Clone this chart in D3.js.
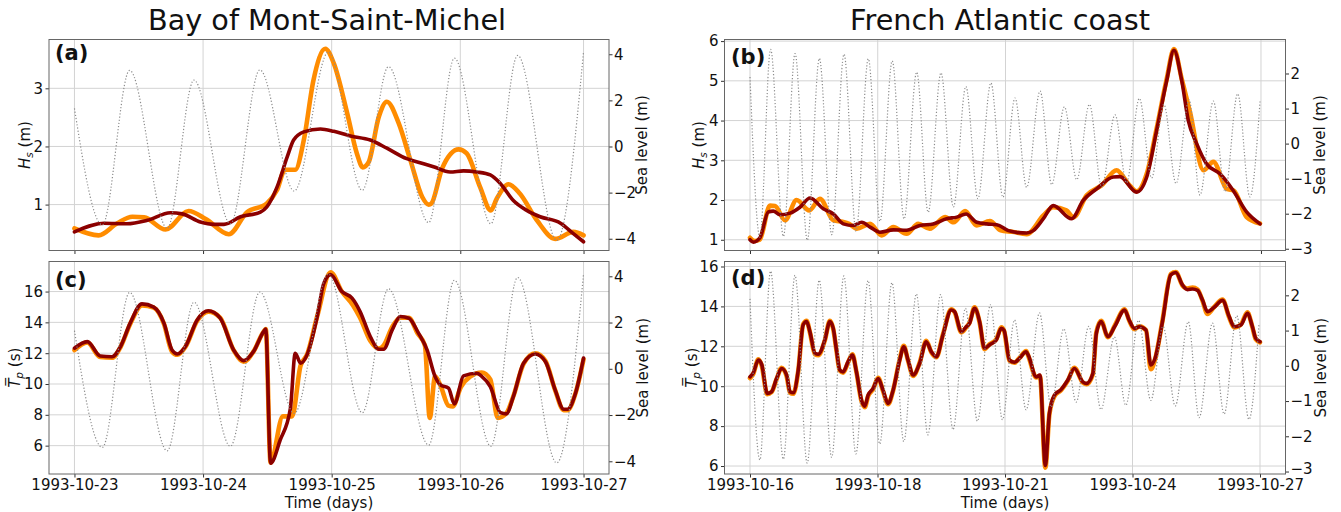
<!DOCTYPE html>
<html><head><meta charset="utf-8">
<script src="https://cdn.jsdelivr.net/npm/d3@7"></script>
<style>
body{margin:0;background:#fff}
text{font-family:"DejaVu Sans",sans-serif;fill:#111}
</style>
</head><body>
<svg id="chart" width="1341" height="512"></svg>
<script>
// ---------- DATA (hours since start, value) ----------
const bayStart = "1993-10-23T00:00:00Z";
const atlStart = "1993-10-16T00:00:00Z";

const bayTickHours = [0, 24, 48, 72, 95];
const bayTickLabels = ["1993-10-23","1993-10-24","1993-10-25","1993-10-26","1993-10-27"];
const atlTickHours = [0, 65.75, 131.5, 197.25, 263];
const atlTickLabels = ["1993-10-16","1993-10-18","1993-10-21","1993-10-24","1993-10-27"];

const bayHsTicks = [1, 2, 3];
const bayTpTicks = [6, 8, 10, 12, 14, 16];
const baySeaTicks = [-4, -2, 0, 2, 4];
const atlHsTicks = [1, 2, 3, 4, 5, 6];
const atlTpTicks = [6, 8, 10, 12, 14, 16];
const atlSeaTicks = [-3, -2, -1, 0, 1, 2];

// Bay of Mont-Saint-Michel
const bayHsOrange = [[0,0.59],[4.5,0.47],[8,0.68],[10.8,0.79],[13,0.78],[17,0.57],[21.3,0.89],[24.5,0.75],[28.8,0.49],[32.2,0.87],[35.9,1.02],[37.8,1.25],[39.3,1.6],[41.2,1.6],[42.8,2.11],[44.6,3.14],[46.8,3.68],[48.4,3.43],[50.9,2.57],[52.7,1.88],[53.8,1.64],[54.9,1.73],[56.8,2.51],[58.3,2.77],[60.5,2.4],[62.7,1.76],[64.9,1.13],[66.1,1.0],[66.6,1.02],[68.6,1.62],[71.7,1.95],[73.2,1.88],[75.7,1.3],[77.7,0.9],[78.8,1.1],[81,1.35],[83.1,1.19],[86.3,0.73],[89.7,0.41],[93.1,0.53],[95,0.47]];
const bayHsRed = [[0,0.53],[5.5,0.68],[9.8,0.67],[13.6,0.73],[17.9,0.86],[20.1,0.84],[23.5,0.7],[26,0.66],[27.9,0.66],[31,0.79],[34.7,0.87],[35.9,0.96],[37.8,1.3],[39.7,1.82],[40.9,2.11],[42.8,2.25],[45.9,2.3],[48.4,2.26],[51.5,2.18],[55.2,2.11],[58.3,1.97],[62,1.79],[64.5,1.72],[67,1.65],[70.1,1.56],[72.6,1.58],[75.1,1.56],[77.6,1.51],[79.5,1.36],[81.9,1.07],[84.4,0.9],[86.9,0.79],[90.7,0.68],[93.1,0.5],[95,0.36]];
const bayTpOrange = [[0,12.2],[2.4,12.7],[4.8,11.75],[7,11.7],[8.6,12.4],[10.4,13.9],[12.6,15.1],[14.8,14.95],[16.7,13.9],[18.2,12.1],[19.2,11.9],[20.7,12.4],[22.9,14.1],[25,14.7],[27.2,14.3],[29.7,12.2],[31.6,11.45],[33.4,12.1],[35.3,13.4],[35.7,13.56],[36.6,4.9],[38.9,7.9],[40.6,7.9],[42.2,11.2],[43.4,11.9],[45.3,14.4],[47.8,17.25],[49.9,16.0],[52,15.1],[53.3,14.3],[55.2,12.8],[56.8,12.3],[57.7,12.5],[59.3,13.7],[60.8,14.3],[62.4,14.3],[64,13.3],[65.4,12.5],[66.3,7.8],[67.3,10.5],[68.3,9.9],[69.8,8.6],[70.6,8.55],[72.1,9.8],[73.9,10.5],[76,10.75],[77.6,10.3],[79,7.8],[80.6,8.1],[81.9,9.2],[83.8,11.3],[86,12.0],[87.9,11.5],[89.7,9.6],[91.3,8.3],[92,8.3],[93.5,9.4],[95,11.6]];
const bayTpRed = [[0,12.32],[2.4,12.75],[4.8,11.82],[7,11.77],[8.6,12.43],[10.4,13.95],[12.6,15.2],[14.8,14.99],[16.7,13.95],[18.2,12.21],[19.2,11.95],[20.7,12.43],[22.9,14.16],[25,14.75],[27.2,14.27],[29.7,12.21],[31.6,11.52],[33.4,12.1],[35.3,13.4],[35.7,13.56],[36.6,4.86],[38.4,6.37],[40.3,8.43],[41.2,12.0],[42.2,11.35],[43.4,11.89],[45.3,14.38],[46.5,16.5],[47.8,17.1],[49.9,16.0],[51.8,15.57],[53.3,14.7],[55.2,13.08],[56.8,12.26],[57.7,12.26],[59.3,13.51],[60.8,14.38],[62.4,14.27],[64.2,13.3],[65.8,12.21],[67.3,10.48],[68.3,9.94],[69.8,9.73],[70.9,8.71],[72.6,10.53],[75.1,10.7],[75.9,10.53],[77.6,9.83],[79.5,8.14],[80.6,8.06],[81.9,9.18],[83.8,11.35],[86,11.95],[87.9,11.45],[89.7,9.62],[91.3,8.36],[92,8.36],[93.5,9.4],[95,11.68]];
const baySea = [[0,1.65],[5.2,-3.4],[10.3,3.3],[17.3,-3.55],[22.3,2.88],[29.1,-3.35],[34.6,3.32],[41,-1.93],[47.4,4.1],[53.7,-1.9],[58.6,3.46],[66.1,-3.3],[70.9,3.83],[77.7,-3.35],[82.7,3.95],[90,-4.07],[95,4.11]];

// French Atlantic coast
const atlHsOrange = [[0,1.05],[2.5,0.97],[5,1.0],[10.3,1.86],[12.9,1.85],[18,1.49],[24,2.0],[30.5,1.74],[36,2.03],[42.9,1.49],[48,1.45],[51,1.4],[54.9,1.28],[61.8,1.4],[67.8,1.11],[73.8,1.32],[80.6,1.15],[86.6,1.4],[92.5,1.28],[100.4,1.57],[104.8,1.44],[110.7,1.72],[116.7,1.36],[123.5,1.47],[129,1.24],[135,1.2],[142.4,1.14],[151,1.61],[156,1.82],[162.8,1.74],[166.5,1.57],[173.3,2.12],[181,2.37],[188.7,2.75],[194.7,2.41],[199,2.22],[204.2,2.66],[209.3,3.8],[214.5,5.05],[218.2,5.8],[222.2,5.05],[226.5,4.21],[233.4,2.75],[238.5,2.96],[245.4,2.28],[249,2.24],[255.6,1.57],[262.5,1.41]];
const atlHsRed = [[0,1.0],[1.7,0.94],[5.1,1.05],[9.4,1.7],[12,1.72],[15.4,1.63],[20.6,1.67],[25.7,1.82],[30.9,2.05],[37.7,1.78],[42.9,1.65],[48,1.4],[53.2,1.36],[57.5,1.44],[61.8,1.32],[66.9,1.19],[73.8,1.25],[80.6,1.24],[87.5,1.36],[94.3,1.4],[101.2,1.53],[106.4,1.57],[111.2,1.65],[116.7,1.44],[121.8,1.4],[127,1.38],[133,1.23],[138.1,1.18],[142.4,1.17],[145.8,1.23],[151,1.53],[156.1,1.86],[165.5,1.53],[171.5,1.99],[178.4,2.28],[187,2.58],[190.4,2.59],[199,2.2],[204.2,2.58],[209.3,3.75],[214.5,5.01],[218.2,5.77],[222.2,5.01],[225.6,4.0],[229.9,3.42],[235,2.91],[241.9,2.66],[248.7,2.24],[255.6,1.7],[262.5,1.4]];
const atlTpRed = [[0,10.47],[1.7,10.67],[4.3,11.31],[6,11.1],[8.9,9.64],[11.1,9.72],[13.7,10.39],[16.3,10.89],[18.9,10.56],[20.6,9.72],[22.3,9.67],[24.9,10.81],[27.4,13.07],[29.2,13.24],[30.9,12.73],[33.5,11.65],[35.2,11.6],[38.6,12.32],[41.2,13.24],[42.9,12.91],[44.6,11.81],[46.3,10.81],[48,10.72],[50.6,11.23],[52.8,11.56],[54.9,10.72],[57.5,9.3],[59.2,9.0],[60.9,9.55],[63.5,9.89],[66.1,10.39],[68.6,9.8],[71.2,9.14],[73.8,9.8],[77.2,11.31],[79.3,11.98],[81.5,11.31],[84.1,10.56],[87.5,11.15],[90.9,12.23],[93.5,11.73],[96.1,11.48],[99.5,12.57],[103.8,13.82],[105.5,13.74],[109,12.73],[111.5,12.98],[113.2,13.15],[115.8,13.91],[118.4,13.24],[120.9,11.9],[123.5,12.07],[127,12.32],[129.6,12.9],[131,12.8],[133.8,11.31],[136.4,11.2],[139,11.4],[142.4,11.73],[143.5,11.56],[147.6,10.47],[149.5,10.56],[152.3,6.03],[154.4,8.63],[157,9.55],[160.4,9.83],[163.9,10.31],[167.3,10.89],[171.6,10.22],[173.5,10.14],[176.8,10.64],[178.6,12.65],[181.1,13.24],[184.6,12.48],[188,12.98],[193.2,13.82],[195.5,13.32],[198.2,12.9],[200.8,12.98],[204.2,12.82],[206.7,11.06],[208.9,11.4],[212.7,13.24],[217,15.58],[219.6,15.7],[223,15.08],[225.6,14.84],[228.2,14.87],[230.8,14.8],[233.3,14.33],[235.9,13.74],[239.4,13.96],[243.7,14.3],[247.1,13.49],[249.7,12.98],[253.2,13.07],[256.5,13.66],[259.1,12.98],[260.8,12.4],[263,12.23]];
const atlTpOrange = [[0,10.4],[1.7,10.62],[4.3,11.35],[6,11.05],[8.9,9.6],[11.1,9.7],[13.7,10.35],[16.3,10.92],[18.9,10.5],[20.6,9.68],[22.3,9.62],[24.9,10.78],[27.4,13.1],[29.2,13.28],[30.9,12.7],[33.5,11.6],[35.2,11.55],[38.6,12.3],[41.2,13.28],[42.9,12.88],[44.6,11.78],[46.3,10.78],[48,10.68],[50.6,11.2],[52.8,11.6],[54.9,10.7],[57.5,9.25],[59.2,8.95],[60.9,9.5],[63.5,9.85],[66.1,10.42],[68.6,9.76],[71.2,9.1],[73.8,9.78],[77.2,11.35],[79.3,12.02],[81.5,11.28],[84.1,10.52],[87.5,11.18],[90.9,12.27],[93.5,11.7],[96.1,11.45],[99.5,12.6],[103.8,13.85],[105.5,13.72],[109,12.7],[111.5,12.95],[113.2,13.18],[115.8,13.95],[118.4,13.2],[120.9,11.86],[123.5,12.1],[127,12.35],[129.6,12.95],[131,12.78],[133.8,11.28],[136.4,11.18],[139,11.42],[142.4,11.76],[143.5,11.52],[147.6,10.44],[149.5,10.52],[152.3,5.92],[154.4,8.6],[157,9.5],[160.4,9.8],[163.9,10.28],[167.3,10.92],[171.6,10.18],[173.5,10.1],[176.8,10.6],[178.6,12.7],[181.1,13.28],[184.6,12.45],[188,13.02],[193.2,13.86],[195.5,13.3],[198.2,12.86],[200.8,13.0],[204.2,12.8],[206.7,10.85],[208.9,11.35],[212.7,13.28],[217,15.62],[219.6,15.72],[223,15.05],[225.6,14.9],[228.2,14.95],[230.8,14.85],[233.3,14.3],[235.9,13.62],[239.4,13.98],[243.7,14.34],[247.1,13.45],[249.7,12.94],[253.2,13.1],[256.5,13.7],[259.1,12.95],[260.8,12.36],[263,12.2]];
const atlSea = [[0,1.9],[5.1,-2.67],[10.6,2.69],[17.2,-2.65],[23.2,2.57],[29.5,-2.76],[35.7,2.43],[42.1,-2.6],[48.4,2.55],[54.6,-2.5],[60.9,2.42],[66.9,-2.22],[73.2,2.36],[79.3,-2.15],[85.8,2.04],[91.7,-1.96],[98.3,2.02],[104.7,-1.81],[111.1,1.63],[117.3,-1.57],[124,1.73],[130.2,-1.53],[136.4,1.3],[142.4,-1.25],[149.3,1.5],[155.3,-1.17],[161.8,1.05],[168.2,-1.03],[174.7,1.12],[181,-1.24],[187.9,0.82],[193.8,-1.12],[200.4,1.29],[206.7,-0.98],[213,1.12],[219.3,-1.14],[226,1.25],[231.6,-1.47],[238.5,1.21],[244.5,-1.37],[251,1.42],[257.3,-1.52],[262.5,1.2]];

// ---------- DRAWING ----------
const svg = d3.select("#chart");
const HOUR = 3600e3;
const ORANGE = "#ff8c00", DARKRED = "#8b0000";
const FS = 15;
const fmt = d3.format("d");

function drawPanel(o) {
  const t0 = Date.parse(o.start);
  const toDate = h => new Date(t0 + h * HOUR);
  const allH = o.series.flatMap(s => s.data.map(d => d[0])).concat(o.sea.map(d => d[0]));
  const [hmin, hmax] = d3.extent(allH);
  const pad = (hmax - hmin) * 0.05;
  const x = d3.scaleTime().domain([toDate(hmin - pad), toDate(hmax + pad)]).range([o.x0, o.x1]);
  const y = d3.scaleLinear().domain(o.yDomain).range([o.y1, o.y0]);
  const y2 = d3.scaleLinear().domain(o.seaDomain).range([o.y1, o.y0]);
  const g = svg.append("g");

  // grid
  g.append("g").selectAll("line").data(o.yTicks).join("line")
    .attr("x1", o.x0).attr("x2", o.x1).attr("y1", d => y(d)).attr("y2", d => y(d))
    .attr("stroke", "#d3d3d3").attr("stroke-width", 1);
  g.append("g").selectAll("line").data(o.xTickHours).join("line")
    .attr("x1", d => x(toDate(d))).attr("x2", d => x(toDate(d))).attr("y1", o.y0).attr("y2", o.y1)
    .attr("stroke", "#d3d3d3").attr("stroke-width", 1);

  const clipId = "clip" + Math.round(o.x0) + "_" + Math.round(o.y0);
  svg.append("clipPath").attr("id", clipId).append("rect")
    .attr("x", o.x0).attr("y", o.y0).attr("width", o.x1 - o.x0).attr("height", o.y1 - o.y0);
  const plot = g.append("g").attr("clip-path", `url(#${clipId})`);

  const line = d3.line().x(d => x(toDate(d[0]))).y(d => y(d[1])).curve(d3.curveMonotoneX);
  o.series.forEach(s => {
    plot.append("path").datum(s.data).attr("d", line).attr("fill", "none")
      .attr("stroke", s.color).attr("stroke-width", s.width)
      .attr("stroke-linejoin", "round").attr("stroke-linecap", "round");
  });
  const seaLine = d3.line().x(d => x(toDate(d[0]))).y(d => y2(d[1])).curve(d3.curveMonotoneX);
  plot.append("path").datum(o.sea).attr("d", seaLine).attr("fill", "none")
    .attr("stroke", "#8c8c8c").attr("stroke-width", 1.2).attr("stroke-dasharray", "1.2,2");

  // axes
  const ax = d3.axisBottom(x).tickValues(o.xTickHours.map(toDate)).tickSizeOuter(0)
    .tickSize(3.5).tickPadding(2)
    .tickFormat((d, i) => o.showX ? o.xTickLabels[i] : "");
  const axL = d3.axisLeft(y).tickValues(o.yTicks).tickFormat(fmt).tickSize(3.5).tickPadding(2.5).tickSizeOuter(0);
  const axR = d3.axisRight(y2).tickValues(o.seaTicks).tickFormat(fmt).tickSize(3.5).tickPadding(1.5).tickSizeOuter(0);
  [[ax, `translate(0,${o.y1})`, "b"], [axL, `translate(${o.x0},0)`, "l"], [axR, `translate(${o.x1},0)`, "r"]].forEach(([a, tr, k]) => {
    const gg = g.append("g").attr("transform", tr).call(a);
    gg.select(".domain").remove();
    gg.selectAll("line").attr("stroke", "#333");
    gg.selectAll("text").attr("font-size", FS).attr("font-family", "DejaVu Sans").attr("fill", "#111");
    // keep the lowest right-axis label clear of the date label beneath it
    if (k === "r" && o.showX) {
      gg.selectAll(".tick text").filter(d => y2(d) > o.y1 - 8).attr("dy", "0.12em");
    }
  });

  // frame
  g.append("rect").attr("x", o.x0).attr("y", o.y0).attr("width", o.x1 - o.x0).attr("height", o.y1 - o.y0)
    .attr("fill", "none").attr("stroke", "#666").attr("stroke-width", 1);

  // panel label
  g.append("text").attr("x", o.labelX).attr("y", o.labelY).attr("font-size", 21).attr("font-weight", "bold")
    .text(o.label);

  // y label (left)
  const yl = g.append("text").attr("transform", `translate(${o.yLabelX},${(o.y0 + o.y1) / 2}) rotate(-90)`)
    .attr("text-anchor", "middle").attr("font-size", FS);
  yl.append("tspan").attr("font-style", "italic").text(o.yVar);
  yl.append("tspan").attr("font-style", "italic").attr("font-size", 10.5).attr("dy", 3).text(o.ySub);
  yl.append("tspan").attr("dy", -3).text(" " + o.yUnit);

  // y label (right)
  g.append("text").attr("transform", `translate(${o.seaLabelX},${(o.y0 + o.y1) / 2}) rotate(-90)`)
    .attr("text-anchor", "middle").attr("font-size", FS).text("Sea level (m)");

  if (o.showX) {
    g.append("text").attr("x", (o.x0 + o.x1) / 2).attr("y", 507.5).attr("text-anchor", "middle")
      .attr("font-size", FS).text("Time (days)");
  }
}

const L = {x0: 49, x1: 609}, R = {x0: 724.5, x1: 1285.5};
const TOP = {y0: 39.5, y1: 250.5}, BOT = {y0: 261.5, y1: 474};

drawPanel({...L, ...TOP, start: bayStart, series: [{data: bayHsOrange, color: ORANGE, width: 4.6}, {data: bayHsRed, color: DARKRED, width: 3.6}],
  sea: baySea, yDomain: [0.21, 3.84], seaDomain: [-4.51, 4.64], yTicks: bayHsTicks, seaTicks: baySeaTicks,
  xTickHours: bayTickHours, xTickLabels: bayTickLabels, showX: false, label: "(a)", labelX: 55, labelY: 60,
  yVar: "H", ySub: "s", yUnit: "(m)", yLabelX: 30, seaLabelX: 647});
drawPanel({...L, ...BOT, start: bayStart, series: [{data: bayTpOrange, color: ORANGE, width: 4.6}, {data: bayTpRed, color: DARKRED, width: 3.6}],
  sea: baySea, yDomain: [4.16, 17.95], seaDomain: [-4.55, 4.64], yTicks: bayTpTicks, seaTicks: baySeaTicks,
  xTickHours: bayTickHours, xTickLabels: bayTickLabels, showX: true, label: "(c)", labelX: 55, labelY: 287,
  yVar: "T\u0305", ySub: "p", yUnit: "(s)", yLabelX: 20, seaLabelX: 648});
drawPanel({...R, ...TOP, start: atlStart, series: [{data: atlHsOrange, color: ORANGE, width: 4.6}, {data: atlHsRed, color: DARKRED, width: 3.6}],
  sea: atlSea, yDomain: [0.73, 6.04], seaDomain: [-3.05, 2.97], yTicks: atlHsTicks, seaTicks: atlSeaTicks,
  xTickHours: atlTickHours, xTickLabels: atlTickLabels, showX: false, label: "(b)", labelX: 731, labelY: 64,
  yVar: "H", ySub: "s", yUnit: "(m)", yLabelX: 704, seaLabelX: 1325});
drawPanel({...R, ...BOT, start: atlStart, series: [{data: atlTpOrange, color: ORANGE, width: 4.6}, {data: atlTpRed, color: DARKRED, width: 3.6}],
  sea: atlSea, yDomain: [5.6, 16.25], seaDomain: [-3.07, 2.96], yTicks: atlTpTicks, seaTicks: atlSeaTicks,
  xTickHours: atlTickHours, xTickLabels: atlTickLabels, showX: true, label: "(d)", labelX: 731, labelY: 285,
  yVar: "T\u0305", ySub: "p", yUnit: "(s)", yLabelX: 697, seaLabelX: 1326});

// titles
svg.append("text").attr("x", 327).attr("y", 30).attr("text-anchor", "middle").attr("font-size", 28.7)
  .text("Bay of Mont-Saint-Michel");
svg.append("text").attr("x", 1000).attr("y", 30).attr("text-anchor", "middle").attr("font-size", 28.7)
  .text("French Atlantic coast");
</script>
</body></html>
